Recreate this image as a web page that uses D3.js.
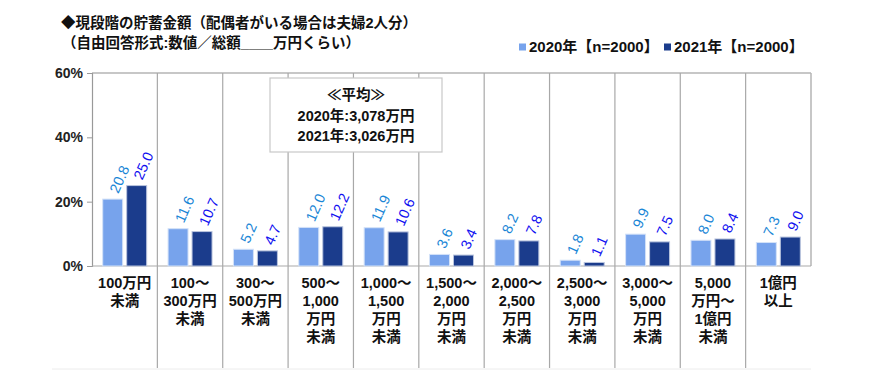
<!DOCTYPE html>
<html>
<head>
<meta charset="utf-8">
<script src="https://cdn.jsdelivr.net/npm/d3@7"></script>
<style>
  body { margin: 0; background: #fff; }
  svg { display: block; font-family: "Liberation Sans", "Noto Sans CJK JP", sans-serif; }
  .jp { font-family: "Liberation Sans", "Noto Sans CJK JP", sans-serif; font-weight: bold; }
</style>
</head>
<body>
<div id="chart"></div>
<script>
// Data
const categories = [
  ['100万円', '未満'],
  ['100～', '300万円', '未満'],
  ['300～', '500万円', '未満'],
  ['500～', '1,000', '万円', '未満'],
  ['1,000～', '1,500', '万円', '未満'],
  ['1,500～', '2,000', '万円', '未満'],
  ['2,000～', '2,500', '万円', '未満'],
  ['2,500～', '3,000', '万円', '未満'],
  ['3,000～', '5,000', '万円', '未満'],
  ['5,000', '万円～', '1億円', '未満'],
  ['1億円', '以上']
];
const seriesNames = ['2020年【n=2000】', '2021年【n=2000】'];
const values2020 = [20.8, 11.6, 5.2, 12.0, 11.9, 3.6, 8.2, 1.8, 9.9, 8.0, 7.3];
const values2021 = [25.0, 10.7, 4.7, 12.2, 10.6, 3.4, 7.8, 1.1, 7.5, 8.4, 9.0];
const yTicks = [0, 20, 40, 60];
const titleLines = ['◆現段階の貯蓄金額（配偶者がいる場合は夫婦2人分）', '（自由回答形式:数値／総額____万円くらい）'];
const averageLines = ['≪平均≫', '2020年:3,078万円', '2021年:3,026万円'];

const barColors = ['#77a3ec', '#1b3c8c'];
const labelColors = ['#1a86d6', '#1010f0'];

const width = 870, height = 385;
const margin = { top: 73, right: 59, bottom: 119, left: 92 };
const innerW = width - margin.left - margin.right;
const innerH = height - margin.top - margin.bottom;

const svg = d3.select('#chart')
  .append('svg')
  .attr('width', width)
  .attr('height', height);

// Title
svg.append('g')
  .selectAll('text')
  .data(titleLines)
  .enter()
  .append('text')
  .attr('class', 'jp')
  .attr('x', (d, i) => i === 0 ? 61 : 62)
  .attr('y', (d, i) => 28 + i * 20)
  .attr('font-size', 14.5)
  .attr('fill', '#111')
  .text(d => d);

// Legend
const legend = svg.append('g').attr('transform', 'translate(519,52)');
const legendX = [0, 145];
seriesNames.forEach((name, i) => {
  const lg = legend.append('g').attr('transform', `translate(${legendX[i]},0)`);
  lg.append('rect').attr('x', 0).attr('y', -8.5).attr('width', 7).attr('height', 7).attr('fill', barColors[i]);
  lg.append('text').attr('class', 'jp').attr('x', 10).attr('y', 0)
    .attr('font-size', 15).attr('fill', '#111').text(name);
});

const g = svg.append('g').attr('transform', `translate(${margin.left},${margin.top})`);

const x0 = d3.scaleBand()
  .domain(d3.range(categories.length))
  .range([0, innerW])
  .padding(0);

const x1 = d3.scaleBand()
  .domain([0, 1])
  .range([0, x0.bandwidth()])
  .paddingInner(0.167)
  .paddingOuter(0.446);

const y = d3.scaleLinear()
  .domain([0, 60])
  .range([innerH, 0]);

// Faint bottom line under the label area
g.append('line').attr('x1', -40).attr('x2', innerW).attr('y1', innerH + 103).attr('y2', innerH + 103)
  .attr('stroke', '#ececec').attr('stroke-width', 1);

// Frame: top and right border
g.append('line').attr('x1', 0).attr('x2', innerW).attr('y1', 0).attr('y2', 0)
  .attr('stroke', '#b5b5b5').attr('stroke-width', 1.5);
g.append('line').attr('x1', innerW).attr('x2', innerW).attr('y1', 0).attr('y2', innerH)
  .attr('stroke', '#b5b5b5').attr('stroke-width', 1.5);

// Category separators (run through the label area)
g.selectAll('.sep')
  .data(d3.range(1, categories.length))
  .enter()
  .append('line')
  .attr('class', 'sep')
  .attr('x1', d => x0(d)).attr('x2', d => x0(d))
  .attr('y1', 0).attr('y2', innerH + 102)
  .attr('stroke', '#a8a8a8').attr('stroke-width', 1.2);

// Y axis
const yAxis = g.append('g')
  .call(d3.axisLeft(y).tickValues(yTicks).tickSize(5).tickPadding(4).tickFormat(d => d + '%'));
yAxis.select('.domain').attr('stroke', '#999').attr('stroke-width', 1.2);
yAxis.selectAll('.tick line').attr('stroke', '#999');
yAxis.selectAll('.tick text')
  .attr('font-size', 14).attr('font-weight', 'bold').attr('fill', '#222')
  .attr('font-family', '"Liberation Sans Narrow", "Liberation Sans", sans-serif');

// X axis baseline
g.append('line').attr('x1', 0).attr('x2', innerW).attr('y1', innerH).attr('y2', innerH)
  .attr('stroke', '#aaa').attr('stroke-width', 1.2);

// Bars
const rows = categories.map((c, i) => ({ i, vals: [values2020[i], values2021[i]] }));
const groups = g.selectAll('.grp')
  .data(rows)
  .enter()
  .append('g')
  .attr('class', 'grp')
  .attr('transform', d => `translate(${x0(d.i)},0)`);

groups.selectAll('rect')
  .data(d => d.vals.map((v, s) => ({ v, s })))
  .enter()
  .append('rect')
  .attr('x', d => x1(d.s))
  .attr('y', d => y(d.v))
  .attr('width', x1.bandwidth())
  .attr('height', d => innerH - y(d.v))
  .attr('fill', d => barColors[d.s])
  .attr('stroke', d => d.s === 0 ? '#d4e2f8' : '#b9c4de')
  .attr('stroke-width', 1);

// Rotated value labels
groups.selectAll('.val')
  .data(d => d.vals.map((v, s) => ({ v, s })))
  .enter()
  .append('text')
  .attr('class', 'val')
  .attr('transform', d => `translate(${x1(d.s) + x1.bandwidth() / 2 + 1},${y(d.v) - 7}) rotate(-66)`)
  .attr('dy', '0.35em')
  .attr('font-size', 14.5)
  .attr('fill', d => labelColors[d.s])
  .text(d => d.v.toFixed(1));

// Category labels
groups.append('text')
  .attr('class', 'jp')
  .attr('text-anchor', 'middle')
  .attr('font-size', 14.5)
  .attr('fill', '#111')
  .selectAll('tspan')
  .data(d => categories[d.i])
  .enter()
  .append('tspan')
  .attr('x', x0.bandwidth() / 2)
  .attr('y', (d, k) => innerH + 22 + k * 18)
  .text(d => d);

// Average box
const box = svg.append('g');
box.append('rect')
  .attr('x', 270).attr('y', 78).attr('width', 172).attr('height', 74)
  .attr('fill', '#fff').attr('stroke', '#c8c8c8').attr('stroke-width', 1.2);
box.selectAll('text')
  .data(averageLines)
  .enter()
  .append('text')
  .attr('class', 'jp')
  .attr('x', 356)
  .attr('y', (d, i) => 100 + i * 20.5)
  .attr('text-anchor', 'middle')
  .attr('font-size', 14.5)
  .attr('fill', '#111')
  .text(d => d);
</script>
</body>
</html>
